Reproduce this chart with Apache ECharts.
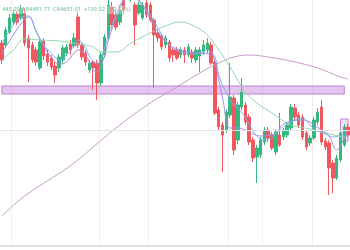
<!DOCTYPE html>
<html><head><meta charset="utf-8">
<script src="https://cdn.jsdelivr.net/npm/echarts@6/dist/echarts.min.js"></script>
<style>html,body{margin:0;padding:0;background:#fff}#c{width:350px;height:250px}</style>
</head><body><div id="c"></div>
<script>
// 92 candles (time slots)
const categories = Array.from({length: 92}, (_, i) => 'T' + (i + 1));

const openV  = [203,201,214,224,232,228,233,208,201,196, 178,205,192,188,180,178,186,193,202,200,
                229,201,193,176,184,183,163,191,208,239, 231,224,251,251,248,241,233,228,243,241,
                226,213,210,201,204,196,196,191,196,191, 194,186,190,194,196,201,184,136,121,116,
                131,148,106,139,141,129,106,89,91,104, 116,111,94,111,109,111,118,138,131,129,
                113,103,108,124,139,105,103,83,68,86, 101,119];
const closeV = [186,216,228,233,224,238,203,198,186,184, 204,190,184,179,171,189,198,199,196,208,
                201,189,184,183,178,163,191,209,241,221, 219,236,236,266,261,221,241,241,231,226,
                211,208,199,208,188,191,188,196,191,199, 188,196,196,201,203,183,133,119,111,134,
                149,96,141,154,124,104,88,98,106,116, 108,98,114,101,116,121,139,129,121,109,
                99,108,126,134,104,99,78,68,88,113, 119,111];
const lowV   = [182,198,212,221,221,226,200,164,183,180, 176,186,180,176,163,174,183,190,191,198,
                198,186,180,173,156,146,160,188,206,218, 216,221,232,246,244,201,231,226,228,224,
                158,204,196,198,184,184,186,188,183,189, 183,183,174,191,193,181,131,116,74,113,
                128,91,102,136,121,101,84,63,88,101, 104,96,91,99,106,108,116,126,118,106,
                96,100,106,121,101,96,51,53,66,84, 99,109];
const highV  = [206,219,232,236,235,241,238,211,204,199, 208,208,196,191,184,192,201,202,206,213,
                234,204,196,186,186,186,194,212,246,244, 236,241,256,271,266,244,244,244,246,244,
                228,216,213,211,206,199,199,199,199,202, 197,199,199,206,208,204,186,139,124,137,
                183,151,144,168,144,132,109,101,109,119, 119,114,117,133,118,124,142,142,134,132,
                116,111,129,138,146,108,106,86,91,116, 122,122];

// moving averages: [candle index, value]
const maBlue   = [[0,203],[3,221],[5,229],[7,230],[9,214],[11,201],[13,193],[15,186],[17,191],[19,200],[20,206],[22,198],[23,190],[25,182],[27,198],[28,211],[30,231],[31,240],[33,251],[35,250],[37,241],[39,231],[41,218],[43,206],[45,198],[47,194],[50,192],[52,193],[54,196],[56,189],[57,171],[59,153],[61,141],[63,134],[65,122],[67,110],[69,106],[71,109],[73,116],[75,122],[77,126],[79,128],[81,121],[83,115],[85,112],[87,109],[89,111],[91,116]];
const maPurple = [[0,193],[3,211],[5,222],[7,229],[9,215],[11,200],[13,189],[15,182],[17,184],[19,193],[20,196],[22,191],[24,176],[25,174],[27,191],[28,206],[30,228],[32,245],[34,250],[36,245],[38,234],[40,220],[42,209],[44,201],[47,196],[51,193],[55,192],[56,184],[57,166],[58,148],[60,118],[62,118],[64,116],[68,110],[72,113],[74,122],[79,126],[84,116],[86,110],[88,96],[89,100],[91,116]];
const maGreen  = [[0,186],[3,196],[6,207],[10,206],[15,205],[20,202],[24,199],[26,194],[30,194],[34,203],[39,213],[43,220],[47,224],[51,219],[54,211],[57,196],[59,185],[62,166],[64,154],[67,143],[71,133],[76,121],[81,117],[86,112],[91,108]];
const maLong   = [[0,30],[6,50],[16,75],[20,86],[24,99],[31,121],[39,143],[46,159],[52,173],[57,183],[61,189],[65,191],[70,189],[77,184],[83,178],[89,169],[91,167]];

const zoneBand = [-0.5, 90, 152, 160];   // [from idx, to idx, low, high]
const zoneBox  = [89.3, 91.5, 105, 127];
const refLevel = 116;
const gridIdx  = [3, 26, 39, 60, 69, 82];
const headerText = '445.00  L84481.71  C84651.01  +139.52  (+0.17%)';

const candles = openV.map((o, i) => [o, closeV[i], lowV[i], highV[i]]);

const chart = echarts.init(document.getElementById('c'), null, {renderer: 'canvas'});
chart.setOption({
  animation: false,
  backgroundColor: '#ffffff',
  title: {
    text: headerText, left: 1, top: 6,
    textStyle: {fontSize: 5.8, color: '#6fbf93', fontWeight: 'normal', fontFamily: 'Roboto'},
    backgroundColor: 'rgba(255,255,255,0.35)', padding: [1, 1]
  },
  grid: {left: 0, right: 0, top: 0, bottom: 4},
  xAxis: {
    type: 'category', data: categories, boundaryGap: true,
    axisLine: {show: true, lineStyle: {color: '#d4d4d4', width: 1.5}},
    axisTick: {show: false}, axisLabel: {show: false},
    splitLine: {show: true, interval: (idx) => gridIdx.includes(idx), lineStyle: {color: '#efefef', width: 1}}
  },
  yAxis: {
    type: 'value', min: 0, max: 246, show: true,
    axisLine: {show: false}, axisTick: {show: false}, axisLabel: {show: false},
    splitLine: {show: false}
  },
  series: [
    {
      type: 'line', data: [], z: 1, silent: true,
      markLine: {symbol: 'none', silent: true, label: {show: false},
        lineStyle: {color: '#e6e6e6', type: 'solid', width: 1},
        data: [{yAxis: refLevel}]}
    },
    {
      type: 'candlestick', data: candles, barWidth: 3, z: 2,
      itemStyle: {color: '#34b87e', color0: '#f0575f', borderColor: '#34b87e', borderColor0: '#f0575f', borderWidth: 1},
      markArea: {
        silent: true,
        data: [
          [{coord: [zoneBand[0], zoneBand[3]], itemStyle: {color: 'rgba(206,150,224,0.55)', borderColor: '#bf84d2', borderWidth: 1}},
           {coord: [zoneBand[1], zoneBand[2]]}],
          [{coord: [zoneBox[0], zoneBox[3]], itemStyle: {color: 'rgba(214,170,228,0.4)', borderColor: '#bf84d2', borderWidth: 1}},
           {coord: [zoneBox[1], zoneBox[2]]}]
        ]
      }
    },
    {type: 'line', data: maLong, smooth: 0.4, showSymbol: false, z: 3, lineStyle: {color: '#c99bc9', width: 1}},
    {type: 'line', data: maGreen, smooth: 0.4, showSymbol: false, z: 3, lineStyle: {color: '#93d9ad', width: 1}},
    {type: 'line', data: maPurple, smooth: 0.4, showSymbol: false, z: 3, lineStyle: {color: '#a98be0', width: 1}},
    {type: 'line', data: maBlue, smooth: 0.4, showSymbol: false, z: 3, lineStyle: {color: '#7fb0ec', width: 1}}
  ]
});
</script>
</body></html>
